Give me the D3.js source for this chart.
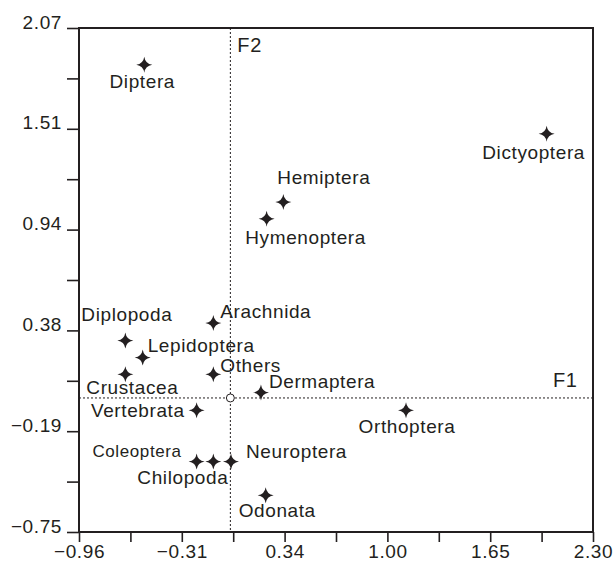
<!DOCTYPE html>
<html>
<head>
<meta charset="utf-8">
<script src="https://cdn.jsdelivr.net/npm/d3@7"></script>
<style>
  body { margin: 0; background: #fff; }
  text { font-family: "Liberation Sans", Arial, sans-serif; fill: #231f20; letter-spacing: 0.6px; }
</style>
</head>
<body>
<div id="container"></div>
<script>
// taxa and their coordinates on the two factorial axes
let taxa = ["Diptera", "Dictyoptera", "Hemiptera", "Hymenoptera", "Arachnida",
  "Diplopoda", "Lepidoptera", "Others", "Crustacea", "Dermaptera", "Vertebrata",
  "Coleoptera", "Chilopoda", "Neuroptera", "Odonata", "Orthoptera"];
let f1 = [-0.546, 2.006, 0.336, 0.230, -0.108, -0.666, -0.556, -0.108, -0.666,
  0.194, -0.214, -0.214, -0.108, 0.004, 0.224, 1.114];
let f2 = [1.865, 1.479, 1.096, 1.003, 0.419, 0.322, 0.226, 0.132, 0.132,
  0.030, -0.069, -0.355, -0.355, -0.355, -0.545, -0.069];

let xTickLabels = ["\u22120.96", "\u22120.31", "0.34", "1.00", "1.65", "2.30"];
let yTickLabels = ["\u22120.75", "\u22120.19", "0.38", "0.94", "1.51", "2.07"];

// where each label sits relative to its star (layout only)
let labelPlace = {
  "Diptera":     { anchor: "middle", dx: -2,  dy: 23 },
  "Dictyoptera": { anchor: "middle", dx: -13, dy: 25 },
  "Hemiptera":   { anchor: "start",  dx: -6,  dy: -18 },
  "Hymenoptera": { anchor: "middle", dx: 39,  dy: 25 },
  "Arachnida":   { anchor: "start",  dx: 7,   dy: -5 },
  "Diplopoda":   { anchor: "start",  dx: -44, dy: -19 },
  "Lepidoptera": { anchor: "start",  dx: 5,   dy: -6 },
  "Others":      { anchor: "start",  dx: 7,   dy: -2 },
  "Crustacea":   { anchor: "start",  dx: -39, dy: 20 },
  "Dermaptera":  { anchor: "start",  dx: 8,   dy: -5 },
  "Vertebrata":  { anchor: "end",    dx: -12, dy: 7 },
  "Coleoptera":  { anchor: "end",    dx: -15, dy: -4, size: 17 },
  "Chilopoda":   { anchor: "end",    dx: 15,  dy: 23 },
  "Neuroptera":  { anchor: "start",  dx: 15,  dy: -3 },
  "Odonata":     { anchor: "start",  dx: -27, dy: 22 },
  "Orthoptera":  { anchor: "middle", dx: 1,   dy: 23 }
};

let w = 615;
let h = 563;
let padLeft = 79, padRight = 593, padTop = 28, padBottom = 532;
let ink = "#231f20";

let viz = d3.select("#container")
  .append("svg")
    .attr("width", w)
    .attr("height", h);

let parseLabel = function(s){ return +s.replace("\u2212", "-"); };
let xDomain = [parseLabel(xTickLabels[0]), parseLabel(xTickLabels[xTickLabels.length - 1])];
let yDomain = [parseLabel(yTickLabels[0]), parseLabel(yTickLabels[yTickLabels.length - 1])];

let xScale = d3.scaleLinear().domain(xDomain).range([padLeft, padRight]);
let yScale = d3.scaleLinear().domain(yDomain).range([padBottom, padTop]);

// major ticks carry labels, minor ticks in between
let xTicks = d3.range(11).map(function(i){ return xDomain[0] + i * (xDomain[1] - xDomain[0]) / 10; });
let yTicks = d3.range(11).map(function(i){ return yDomain[0] + i * (yDomain[1] - yDomain[0]) / 10; });

let xAxis = d3.axisBottom(xScale)
  .tickValues(xTicks)
  .tickSize(10)
  .tickSizeOuter(0)
  .tickFormat(function(d, i){ return i % 2 == 0 ? xTickLabels[i / 2] : ""; });
let yAxis = d3.axisLeft(yScale)
  .tickValues(yTicks)
  .tickSize(12)
  .tickSizeOuter(0)
  .tickFormat(function(d, i){ return i % 2 == 0 ? yTickLabels[i / 2] : ""; });

let xAxisGroup = viz.append("g")
    .attr("transform", "translate(0," + padBottom + ")")
    .call(xAxis);
xAxisGroup.selectAll("text")
    .attr("y", 26).attr("dy", 0)
    .style("font-size", "19px");

let yAxisGroup = viz.append("g")
    .attr("transform", "translate(" + padLeft + ",0)")
    .call(yAxis);
yAxisGroup.selectAll("text")
    .attr("x", -17).attr("dy", 0)
    .style("font-size", "19px");

viz.selectAll(".domain").remove();
viz.selectAll(".tick line").attr("stroke", ink).attr("stroke-width", 1.6);
viz.selectAll(".tick text").attr("fill", ink);

// frame
viz.append("rect")
    .attr("x", padLeft).attr("y", padTop)
    .attr("width", padRight - padLeft).attr("height", padBottom - padTop)
    .attr("fill", "none")
    .attr("stroke", ink)
    .attr("stroke-width", 2);

// dotted zero lines
viz.append("line")
    .attr("x1", xScale(0)).attr("x2", xScale(0))
    .attr("y1", padTop).attr("y2", padBottom)
    .attr("stroke", ink).attr("stroke-width", 1)
    .attr("stroke-dasharray", "2,2");
viz.append("line")
    .attr("x1", padLeft).attr("x2", padRight)
    .attr("y1", yScale(0)).attr("y2", yScale(0))
    .attr("stroke", ink).attr("stroke-width", 1)
    .attr("stroke-dasharray", "2,2");
viz.append("circle")
    .attr("cx", xScale(0)).attr("cy", yScale(0))
    .attr("r", 4)
    .attr("fill", "#fff")
    .attr("stroke", ink)
    .attr("stroke-width", 1);

viz.append("text")
    .attr("x", padRight - 40).attr("y", yScale(0) - 11)
    .style("font-size", "20px")
    .text("F1");
viz.append("text")
    .attr("x", xScale(0) + 7).attr("y", padTop + 24)
    .style("font-size", "20px")
    .text("F2");

// four pointed star marker
let star = "M0,-8 Q1,-1 8,0 Q1,1 0,8 Q-1,1 -8,0 Q-1,-1 0,-8Z";

let points = taxa.map(function(name, i){
  return { name: name, x: f1[i], y: f2[i] };
});

let graphGroup = viz.append("g").attr("class", "graphGroup");

graphGroup.selectAll(".star").data(points).enter()
  .append("path")
    .attr("class", "star")
    .attr("d", star)
    .attr("transform", function(d){ return "translate(" + xScale(d.x) + "," + yScale(d.y) + ")"; })
    .attr("fill", ink);

graphGroup.selectAll(".label").data(points).enter()
  .append("text")
    .attr("class", "label")
    .attr("x", function(d){ return xScale(d.x) + labelPlace[d.name].dx; })
    .attr("y", function(d){ return yScale(d.y) + labelPlace[d.name].dy; })
    .attr("text-anchor", function(d){ return labelPlace[d.name].anchor; })
    .style("font-size", function(d){ return (labelPlace[d.name].size || 19) + "px"; })
    .text(function(d){ return d.name; });
</script>
</body>
</html>
